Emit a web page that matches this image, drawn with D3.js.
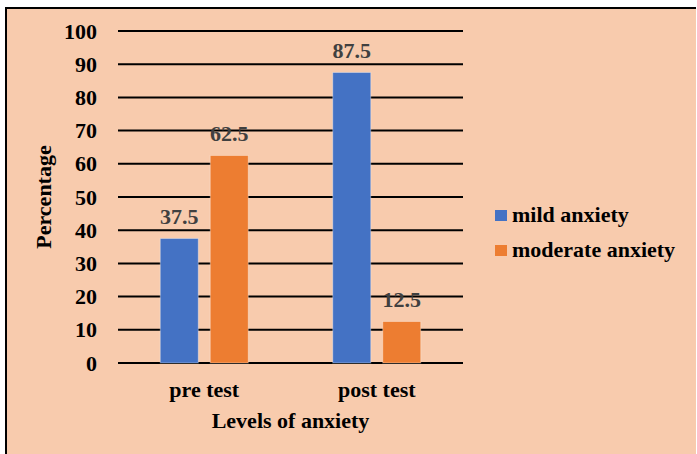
<!DOCTYPE html>
<html>
<head>
<meta charset="utf-8">
<script src="https://cdn.jsdelivr.net/npm/d3@7"></script>
<style>
  html, body { margin: 0; padding: 0; background: #ffffff; }
  svg { display: block; }
  text { font-family: "Liberation Serif", "Times New Roman", serif; font-weight: bold; }
</style>
</head>
<body>
<svg id="chart" width="697" height="454"></svg>
<script>
// Chart data
const categories = ["pre test", "post test"];
const seriesNames = ["mild anxiety", "moderate anxiety"];
const mildValues = [37.5, 87.5];
const moderateValues = [62.5, 12.5];
const yTicks = [0, 10, 20, 30, 40, 50, 60, 70, 80, 90, 100];
const seriesColors = ["#4472C4", "#ED7D31"];

const svg = d3.select("#chart");
const W = 697, H = 454;

// Frame
svg.append("rect").attr("x", 7).attr("y", 9).attr("width", W - 7 - 1).attr("height", H - 9)
  .attr("fill", "#F8CBAD");
svg.append("line").attr("x1", 6).attr("x2", W - 1).attr("y1", 8).attr("y2", 8)
  .attr("stroke", "#000").attr("stroke-width", 2);
svg.append("line").attr("x1", 6).attr("x2", 6).attr("y1", 7).attr("y2", H)
  .attr("stroke", "#000").attr("stroke-width", 2);

const plot = { left: 118, right: 463, top: 31, bottom: 363 };

const y = d3.scaleLinear().domain([0, 100]).range([plot.bottom, plot.top]);
const x0 = d3.scaleBand().domain(categories).range([plot.left, plot.right])
  .paddingInner(0.49).paddingOuter(0.245);
const x1 = d3.scaleBand().domain(seriesNames).range([0, x0.bandwidth()]).paddingInner(0.24);

// Gridlines
svg.append("g").selectAll("line").data(yTicks).join("line")
  .attr("x1", plot.left).attr("x2", plot.right)
  .attr("y1", d => y(d)).attr("y2", d => y(d))
  .attr("stroke", "#000").attr("stroke-width", 2);

// Y axis tick labels
const yAxis = d3.axisLeft(y).tickValues(yTicks).tickSize(0).tickPadding(21);
const gy = svg.append("g").attr("transform", `translate(${plot.left},0)`).call(yAxis);
gy.select(".domain").remove();
gy.selectAll("text").attr("font-size", 22).attr("fill", "#000")
  .style("font-family", '"Liberation Serif", serif').style("font-weight", "bold");

// Bars
const rows = categories.map((c, i) => ({ cat: c, vals: [mildValues[i], moderateValues[i]] }));
const groups = svg.append("g").selectAll("g").data(rows).join("g")
  .attr("transform", d => `translate(${x0(d.cat)},0)`);

groups.selectAll("rect").data(d => d.vals.map((v, j) => ({ v, s: seriesNames[j], j })))
  .join("rect")
  .attr("x", d => x1(d.s)).attr("width", x1.bandwidth())
  .attr("y", d => y(d.v)).attr("height", d => y(0) - y(d.v))
  .attr("fill", d => seriesColors[d.j])
  .attr("stroke", "rgba(255,255,255,0.35)").attr("stroke-width", 1);

groups.selectAll("text").data(d => d.vals.map((v, j) => ({ v, s: seriesNames[j], j })))
  .join("text")
  .attr("x", d => x1(d.s) + x1.bandwidth() / 2)
  .attr("y", d => y(d.v) - 15)
  .attr("text-anchor", "middle").attr("font-size", 22).attr("fill", "#404040")
  .text(d => d.v.toFixed(1));

// X axis category labels
const xAxis = d3.axisBottom(x0).tickSize(0).tickPadding(0);
const gx = svg.append("g").attr("transform", `translate(0,${plot.bottom})`).call(xAxis);
gx.select(".domain").remove();
gx.selectAll("text").attr("font-size", 22).attr("fill", "#000").attr("dy", null)
  .attr("y", 34)
  .style("font-family", '"Liberation Serif", serif').style("font-weight", "bold");

// Axis titles
svg.append("text").attr("x", (plot.left + plot.right) / 2).attr("y", 428)
  .attr("text-anchor", "middle").attr("font-size", 22).attr("fill", "#000")
  .text("Levels of anxiety");
svg.append("text").attr("transform", "translate(51,197) rotate(-90)")
  .attr("text-anchor", "middle").attr("font-size", 22).attr("fill", "#000")
  .text("Percentage");

// Legend
const legend = svg.append("g").selectAll("g").data(seriesNames).join("g")
  .attr("transform", (d, i) => `translate(495,${222 + i * 35})`);
legend.append("rect").attr("x", 0).attr("y", -12).attr("width", 12).attr("height", 11)
  .attr("fill", (d, i) => seriesColors[i]);
legend.append("text").attr("x", 17).attr("y", 0).attr("font-size", 22).attr("fill", "#000")
  .text(d => d);
</script>
</body>
</html>
